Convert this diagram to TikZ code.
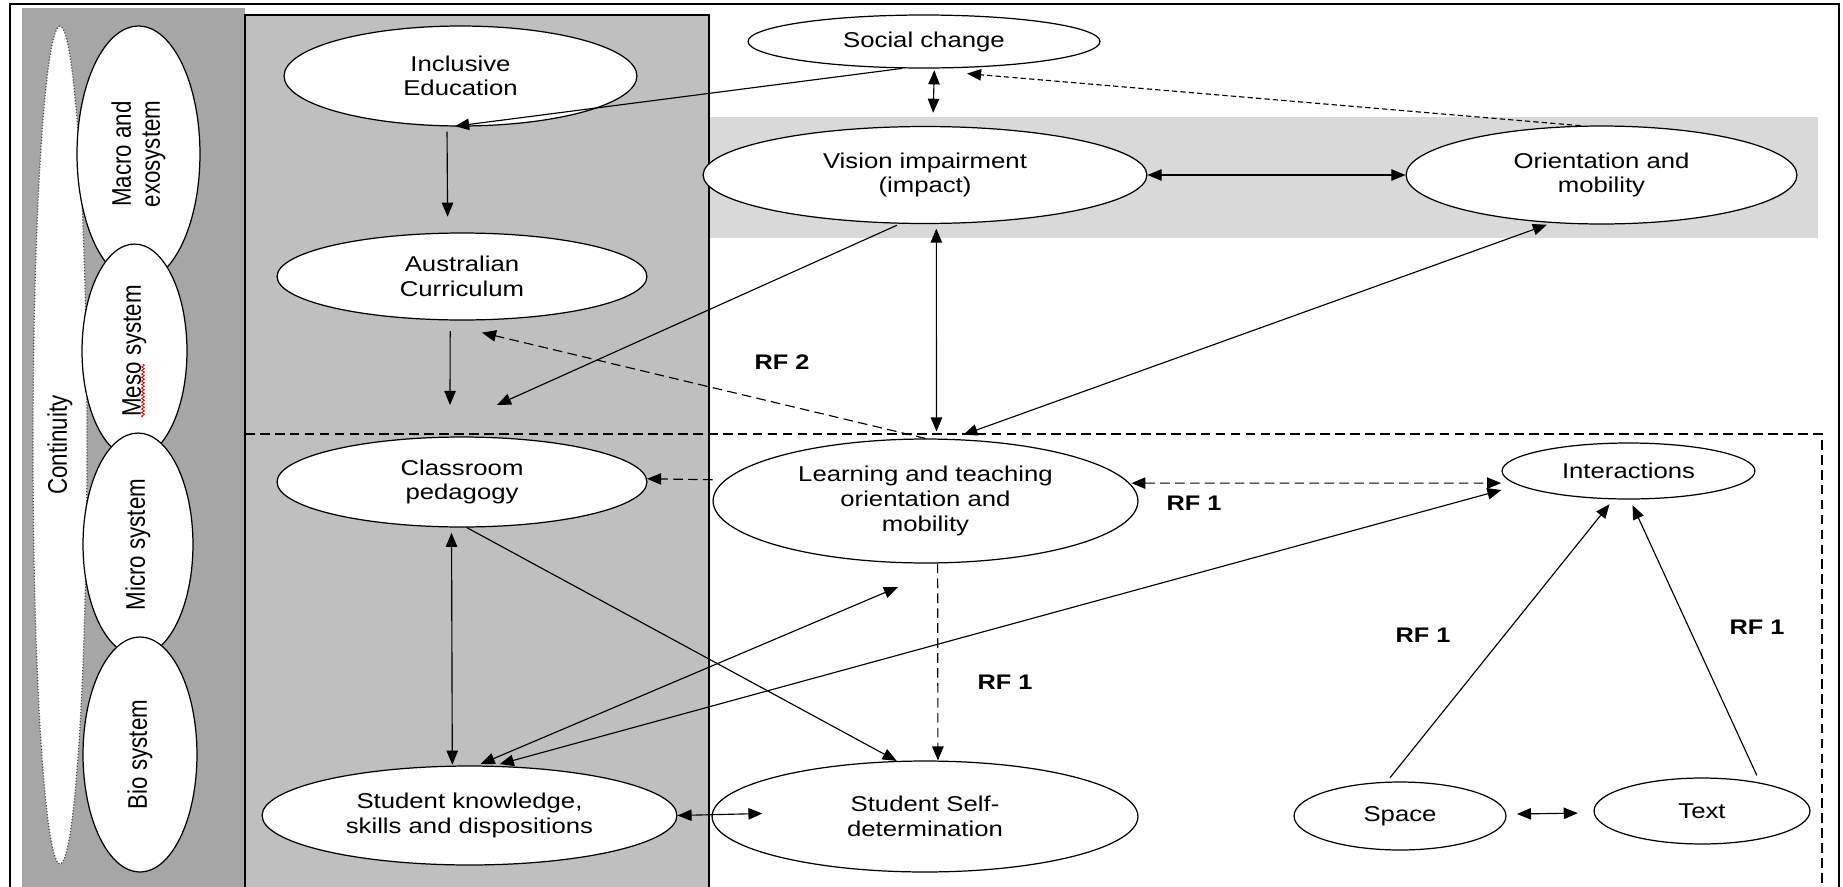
\documentclass[tikz,border=0pt]{standalone}
\usepackage{fontspec}
\setmainfont{Liberation Sans}[FakeStretch=1.2]
\newfontfamily\sysfont{Liberation Sans}[FakeStretch=0.83]
\usetikzlibrary{shapes.geometric,arrows.meta,calc,decorations.pathmorphing}
\definecolor{bandgrey}{HTML}{A6A6A6}
\definecolor{panelgrey}{HTML}{BFBFBF}
\definecolor{rowgrey}{HTML}{D9D9D9}
\begin{document}
\begin{tikzpicture}[x=0.02cm, y=-0.02cm,
  every node/.style={font=\fontsize{12.2}{14}\selectfont},
  oval/.style 2 args={ellipse, draw, line width=0.7pt, fill=white, inner sep=0pt,
    align=center, minimum width=#1*0.04cm, minimum height=#2*0.04cm},
  sysoval/.style 2 args={ellipse, draw, line width=0.7pt, fill=white, inner sep=0pt,
    align=center, rotate=90, minimum width=#2*0.04cm, minimum height=#1*0.04cm,
    font=\sysfont\fontsize{15.3}{16.5}\selectfont},
  rf/.style={font=\bfseries\fontsize{12}{14}\selectfont},
  link/.style={line width=0.65pt},
  onearrow/.style={link, -{Triangle[length=8pt,width=6.5pt]}},
  twoarrow/.style={link, {Triangle[length=8pt,width=6.5pt]}-{Triangle[length=8pt,width=6.5pt]}},
  dsh/.style={dash pattern=on 5.5pt off 3pt},
  finedsh/.style={dash pattern=on 3pt off 1.8pt},
]
% canvas
\path[fill=white] (0,0) rectangle (1843,886);
\useasboundingbox (0,0) rectangle (1843,886);

% frame, system band, panels
\draw[line width=1.1pt] (10,900) -- (10,4) -- (1839,4) -- (1839,900);
\fill[bandgrey] (22,8) rectangle (245,900);
\fill[rowgrey] (709,117) rectangle (1818,238);
\draw[fill=panelgrey, line width=0.8pt] (245,15) rectangle (709,900);
\draw[dsh, line width=0.65pt] (245,434) -- (1822,434) -- (1822,900);

% ecological systems
\node[sysoval={27}{419}, draw=black!70, densely dotted] (cont) at (60,445) {Continuity};
\node[sysoval={61.5}{128}] (macro) at (138.5,154) {Macro and\\exosystem};
\node[sysoval={52.5}{107}] (meso) at (134.5,351) {Meso system};
\node[sysoval={55}{111.5}] (micro) at (138,544.5) {Micro system};
\node[sysoval={57}{117.5}] (bio) at (140,754.5) {Bio system};
\draw[red, line width=0.5pt, decorate, decoration={zigzag, amplitude=0.8pt, segment length=2pt}]
  (143,417) -- (143,364);

% concepts
\node[oval={176.5}{50}] (ie) at (460.5,76) {Inclusive\\Education};
\node[oval={185}{43.5}] (ac) at (462,276.5) {Australian\\Curriculum};
\node[oval={176}{26.5}] (sc) at (924,41.5) {Social change};
\node[oval={222}{48.5}] (vi) at (925,175) {Vision impairment\\(impact)};
\node[oval={195.5}{49}] (om) at (1601.5,175) {Orientation and\\mobility};
\node[oval={185}{45}] (cp) at (462,482) {Classroom\\pedagogy};
\node[oval={212.5}{62}] (lt) at (925.5,501) {Learning and teaching\\orientation and\\mobility};
\node[oval={126.5}{28}] (in) at (1628.5,471) {Interactions};
\node[oval={207.5}{49.5}] (sk) at (469.5,815.5) {Student knowledge,\\skills and dispositions};
\node[oval={213}{55.5}] (sd) at (925,816.5) {Student Self-\\determination};
\node[oval={106}{34}] (sp) at (1400,816) {Space};
\node[oval={108}{33}] (tx) at (1702,811) {Text};

% relation labels
\node[rf] (rf2) at (782,362) {RF 2};
\node[rf] (rf1a) at (1194,503) {RF 1};
\node[rf] (rf1b) at (1005,682) {RF 1};
\node[rf] (rf1c) at (1423,635) {RF 1};
\node[rf] (rf1d) at (1757,627) {RF 1};

% open arrow ends
\coordinate (acgap) at (450,405);
\coordinate (vigap) at (497,405);
\coordinate (skfree) at (898,587);

% connectors
\draw[onearrow, shorten >=1.5pt] (sc.231) -- (ie.261);
\draw[onearrow, shorten <=3pt, shorten >=9pt] (ie.255) -- (ac.108);
\draw[onearrow, shorten <=6pt] (ac.255) -- (acgap);
\draw[onearrow, shorten <=2pt] (vi.243) -- (vigap);
\draw[onearrow, dsh] (lt.north) -- ($(ac.south)+(20,12)$);
\draw[twoarrow, shorten <=1pt, shorten >=7.5pt] (sc.291) -- (vi.81);
\draw[onearrow, finedsh] (om.113) -- ($(sc.south)+(43,5)$);
\draw[twoarrow] (vi.east) -- (om.west);
\draw[twoarrow, shorten <=2.6pt, shorten >=4pt] (vi.-77) -- (lt.80);
\draw[twoarrow, shorten <=3pt, shorten >=7pt] (om.224) -- (lt.67);
\draw[onearrow, dsh, shorten <=7pt] (lt.174) -- (cp.1);
\draw[twoarrow, dsh, shorten <=1pt, shorten >=7pt] (lt.5) -- (in.186);
\draw[twoarrow, shorten <=3pt, shorten >=0.5pt] (cp.257.5) -- (sk.109.5);
\draw[onearrow] (cp.-84) -- (sd.117);
\draw[onearrow, dsh] (lt.-79.5) -- (sd.77.8);
\draw[twoarrow, shorten <=2pt] (sk.81) -- (skfree);
\draw[twoarrow, shorten <=3.5pt] (sk.64.5) -- ($(in.west)+(0,19)$);
\draw[twoarrow] (sk.east) -- ($(sd.west)+(51,-3)$);
\draw[onearrow, shorten <=3pt, shorten >=3.5pt] (sp.111) -- (in.242);
\draw[onearrow, shorten <=4.5pt, shorten >=3.5pt] (tx.26) -- (in.273);
\draw[twoarrow, shorten <=6pt, shorten >=9pt] (sp.1) -- (tx.181);
\end{tikzpicture}
\end{document}
